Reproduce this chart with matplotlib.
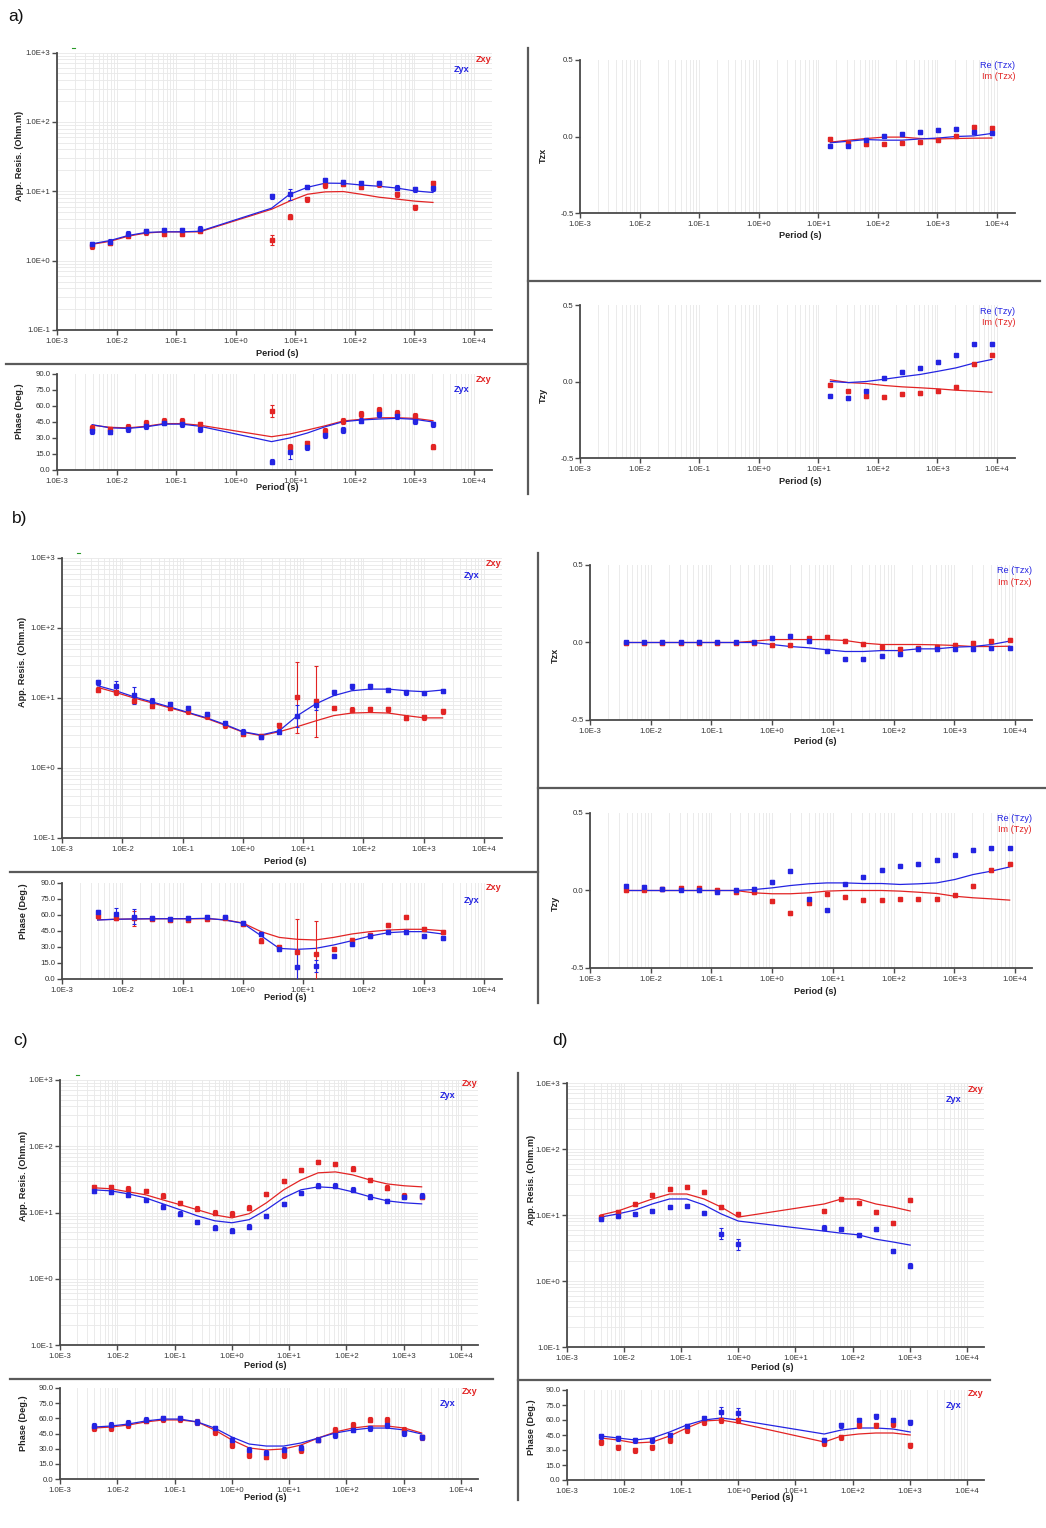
import numpy as np
import matplotlib
matplotlib.use('Agg')
import matplotlib.pyplot as plt
from matplotlib.ticker import FixedLocator, LogLocator, NullFormatter, FuncFormatter
from matplotlib.lines import Line2D

W, H = 1046, 1528
RED = '#e22424'
BLUE = '#2424e2'
GRID = '#e9e9e9'
SPINE = '#4a4a4a'
plt.rcParams['font.family'] = ['Liberation Sans', 'DejaVu Sans']

# ---------------- data ----------------
per_all = [0.0039, 0.0078, 0.0156, 0.03125, 0.0625, 0.125, 0.25, 0.5, 1.0, 2.0,
           4.0, 8.0, 16.0, 32.0, 64.0, 128.0, 256.0, 512.0, 1024.0, 2048.0, 4096.0, 8192.0]

# panel a
a_per = per_all[0:7] + per_all[10:20]
a_rho_xy = [1.6, 1.8, 2.3, 2.55, 2.46, 2.46, 2.7, 2.0, 4.3, 7.7, 12.2, 12.9, 11.7, 12.6, 9.0, 5.9, 13.1]
a_rho_yx = [1.71, 1.88, 2.46, 2.63, 2.72, 2.72, 2.9, 8.5, 9.0, 11.5, 14.4, 13.6, 13.1, 13.0, 11.3, 10.7, 11.0]
a_mod_xy = [1.72, 1.9, 2.25, 2.5, 2.6, 2.6, 2.6, 5.5, 7.2, 9.05, 9.8, 9.9, 9.05, 8.2, 7.7, 7.2, 6.9]
a_mod_yx = [1.75, 1.95, 2.3, 2.55, 2.6, 2.6, 2.65, 5.7, 9.0, 11.4, 13.1, 13.0, 12.3, 11.8, 11.1, 10.1, 9.6]
a_rerr_xy = [0.035] * 7 + [0.07] + [0.035] * 9
a_rerr_yx = [0.035] * 8 + [0.085] + [0.035] * 8
a_phi_xy = [39.7, 38, 40.6, 44, 46.2, 46, 42.8, 55.3, 21.9, 25, 36.6, 46, 52.5, 56.2, 53.7, 50.9, 21.9]
a_phi_yx = [36.6, 36, 38.4, 41.2, 44.3, 42.8, 38.1, 7.8, 17.2, 21.3, 32.8, 37.5, 46.2, 52.2, 50.6, 46, 42.8]
a_pmod_xy = [42, 40, 39.5, 41, 43.5, 43.5, 42, 31.2, 33.7, 37.5, 41.5, 46, 47.5, 49, 49, 48.4, 46.2]
a_pmod_yx = [42.5, 39.5, 39, 40.5, 43, 43, 41, 26.6, 30, 34.7, 40.6, 45.3, 46.9, 47.8, 48.4, 47.5, 45]
a_perr_xy = [2.5] * 7 + [5.5] + [2.5] * 9
a_perr_yx = [2.5] * 8 + [6.5] + [2.5] * 8

a_tper = per_all[12:22]
a_tzx_re = [-0.059, -0.059, -0.024, 0.002, 0.017, 0.028, 0.041, 0.05, 0.028, 0.02]
a_tzx_im = [-0.015, -0.04, -0.048, -0.046, -0.04, -0.035, -0.024, 0.002, 0.063, 0.057]
a_tzx_mre = [-0.041, -0.031, -0.02, -0.024, -0.024, -0.016, -0.01, 0.0, 0.004, 0.02]
a_tzx_mim = [-0.037, -0.024, -0.013, -0.004, -0.004, -0.013, -0.016, -0.013, -0.011, -0.01]
a_tzy_re = [-0.092, -0.107, -0.065, 0.024, 0.063, 0.089, 0.126, 0.17, 0.242, 0.246]
a_tzy_im = [-0.02, -0.065, -0.096, -0.102, -0.08, -0.074, -0.065, -0.033, 0.115, 0.176]
a_tzy_mre = [0.0, -0.007, 0.0, 0.015, 0.031, 0.046, 0.067, 0.089, 0.12, 0.144]
a_tzy_mim = [0.011, -0.007, -0.013, -0.026, -0.035, -0.041, -0.048, -0.057, -0.063, -0.07]

# panel b
b_per = per_all[0:20]
b_rho_xy = [13.2, 12.0, 9.2, 7.8, 7.2, 6.45, 5.5, 4.1, 3.1, 2.85, 4.1, 10.2, 9.0, 7.2, 6.8, 6.9, 6.9, 5.2, 5.3, 6.45]
b_rho_yx = [16.7, 14.7, 11.0, 9.2, 8.2, 7.2, 5.9, 4.4, 3.3, 2.8, 3.3, 5.5, 8.0, 12.0, 14.7, 14.7, 13.0, 12.0, 11.8, 12.6]
b_mod_xy = [14.2, 12.0, 10.0, 8.5, 7.2, 6.1, 5.1, 4.1, 3.25, 2.9, 3.3, 3.9, 4.7, 5.6, 6.1, 6.2, 6.1, 5.6, 5.2, 5.2]
b_mod_yx = [15.0, 12.7, 10.4, 8.8, 7.4, 6.2, 5.2, 4.2, 3.3, 2.96, 3.4, 5.6, 8.2, 10.8, 12.7, 13.4, 13.4, 12.7, 12.3, 13.0]
b_rerr_xy = [0.035] * 11 + [0.51, 0.51] + [0.035] * 7
b_rerr_yx = [0.035, 0.076, 0.12] + [0.035] * 8 + [0.16, 0.08] + [0.035] * 7
b_phi_xy = [59, 57, 56.9, 56, 55.3, 55.3, 56.6, 56.9, 51.6, 36.0, 29.7, 25.6, 23.7, 27.8, 36.6, 41.3, 50.6, 58.4, 46.6, 44.4]
b_phi_yx = [63.1, 61, 58.4, 56.9, 56, 56.9, 57.8, 57.8, 52.8, 42, 27.8, 11.6, 11.9, 21.9, 32.8, 40.3, 44.4, 43.8, 40.3, 38.7]
b_pmod_xy = [55.5, 56, 56.3, 56.5, 56.5, 56.5, 56.5, 55.5, 52.5, 44.4, 39, 37.2, 36.6, 39, 42.2, 44.4, 45.9, 46.6, 46.6, 45.3]
b_pmod_yx = [55.3, 56, 56.3, 56.5, 56.5, 56.5, 56.9, 55.3, 52.2, 40.6, 28.7, 27.8, 28.7, 31.9, 35.9, 40.3, 43.4, 44.4, 44.4, 42.2]
b_perr_xy = [2.0, 2.0, 7.0] + [2.0] * 8 + [31.0, 31.0] + [2.0] * 7
b_perr_yx = [2.0, 5.5, 7.0] + [2.0] * 8 + [13.0, 5.5] + [2.0] * 7

b_tper = per_all[0:22]
b_tzx_re = [0.0, 0.0, 0.0, 0.0, 0.005, 0.0, 0.0, 0.0, 0.03, 0.041, 0.009, -0.056, -0.105, -0.105,
            -0.088, -0.073, -0.045, -0.041, -0.041, -0.041, -0.037, -0.034]
b_tzx_im = [-0.005, -0.005, -0.005, -0.005, -0.005, -0.005, -0.005, -0.005, -0.019, -0.019, 0.026,
            0.034, 0.009, -0.009, -0.03, -0.041, -0.034, -0.03, -0.013, -0.004, 0.009, 0.019]
b_tzx_mre = [0.0, 0.0, 0.0, 0.0, 0.0, 0.0, 0.0, 0.0, -0.013, -0.026, -0.034, -0.047, -0.058, -0.058,
             -0.052, -0.052, -0.041, -0.041, -0.03, -0.026, -0.013, 0.009]
b_tzx_mim = [0.0, 0.0, 0.0, 0.0, 0.0, 0.0, 0.0, 0.009, 0.019, 0.019, 0.019, 0.019, 0.013, -0.004,
             -0.013, -0.013, -0.013, -0.015, -0.019, -0.026, -0.026, -0.024]
b_tzy_re = [0.028, 0.024, 0.011, 0.006, 0.0, -0.011, 0.002, 0.011, 0.056, 0.129, -0.054, -0.129, 0.039,
            0.088, 0.131, 0.161, 0.172, 0.196, 0.232, 0.26, 0.271, 0.271]
b_tzy_im = [0.002, 0.006, 0.011, 0.015, 0.017, 0.006, -0.011, -0.011, -0.069, -0.144, -0.08, -0.021,
            -0.041, -0.062, -0.064, -0.058, -0.058, -0.054, -0.032, 0.028, 0.131, 0.174]
b_tzy_mre = [0.0, 0.0, 0.0, 0.0, 0.0, 0.0, 0.0, 0.006, 0.017, 0.032, 0.043, 0.049, 0.049, 0.045, 0.045,
             0.039, 0.043, 0.049, 0.071, 0.103, 0.125, 0.152]
b_tzy_mim = [0.0, 0.0, 0.0, 0.0, 0.0, 0.0, 0.0, -0.015, -0.021, -0.021, -0.015, -0.004, 0.0, 0.0, 0.0,
             -0.004, -0.011, -0.019, -0.037, -0.047, -0.054, -0.062]

# panel c
c_per = per_all[0:20]
c_rho_xy = [24.4, 24.4, 22.8, 21.2, 17.9, 14.0, 11.4, 9.9, 9.6, 11.8, 19.1, 30, 44, 58, 54, 46, 31, 23.6, 17.9, 17.3]
c_rho_yx = [21.2, 20.5, 18.5, 15.5, 12.2, 9.6, 7.2, 5.9, 5.3, 6.1, 8.9, 13.5, 19.8, 25.3, 25.3, 22, 17.3, 15, 17.3, 17.9]
c_mod_xy = [23.6, 22.8, 20.5, 18.5, 15.5, 13.1, 11, 9.2, 8.3, 9.6, 14, 22, 31, 39.7, 41, 37, 31, 27, 25.3, 24.4]
c_mod_yx = [22, 21.2, 19.1, 16.6, 13.5, 11, 8.9, 7.5, 7.0, 7.8, 11, 16.6, 22, 24.4, 23.6, 20.5, 17.3, 15, 14, 13.5]
c_phi_xy = [50.4, 50.4, 53.4, 57.4, 59.3, 59.3, 56.4, 46.5, 33.6, 23.7, 21.8, 23.7, 28.7, 38.6, 48.5, 53.4, 58.4, 58.4, 48.5, 41.5]
c_phi_yx = [52.4, 53.4, 55.4, 58.4, 60.3, 60.3, 56.4, 50.4, 38.6, 28.7, 25.7, 28.7, 30.7, 38.6, 43.5, 48.5, 50.4, 53.4, 45.5, 41.5]
c_pmod_xy = [50.4, 51.4, 53.4, 56.4, 58.4, 58.4, 56.4, 48.5, 38.6, 30.7, 28.7, 29.7, 33.6, 40.5, 46.5, 50.4, 52.4, 52.4, 50.4, 45.5]
c_pmod_yx = [51.4, 52.4, 54.4, 57.4, 59.3, 59.3, 56.4, 50.4, 41.5, 34.6, 32.6, 32.6, 35.6, 40.5, 45.5, 48.5, 50.4, 50.4, 48.5, 44.5]

# panel d
d_per = per_all[0:9] + per_all[13:19]
d_rho_xy = [9.3, 11.1, 14.7, 20.1, 24.8, 26.6, 22.3, 13.2, 10.4, 11.5, 17.5, 15.2, 11.1, 7.6, 16.9]
d_rho_yx = [8.7, 9.7, 10.4, 11.5, 13.2, 13.7, 10.7, 5.2, 3.6, 6.4, 6.1, 5.0, 6.1, 2.85, 1.7]
d_mod_xy = [10, 11.5, 14.2, 17.5, 20.8, 20.8, 17.5, 13.2, 9.3, 14.7, 17.5, 17.5, 14.7, 13.2, 11.5]
d_mod_yx = [9.3, 10.4, 11.9, 14.7, 17.5, 17.5, 14.2, 10.4, 8.1, 5.7, 5.3, 5.0, 4.3, 3.9, 3.5]
d_rerr_yx = [0.035] * 7 + [0.08, 0.08] + [0.035] * 6
d_phi_xy = [38, 33, 30, 33, 40, 50, 58, 60, 60, 37, 43, 55, 55, 56, 35]
d_phi_yx = [44, 42, 40, 40, 45, 54, 62, 68, 67, 40, 55, 60, 64, 60, 58]
d_pmod_xy = [42, 40, 37, 38, 44, 52, 59, 60, 57, 38, 44, 46, 47, 47, 45]
d_pmod_yx = [44, 42, 40, 42, 48, 55, 60, 62, 60, 46, 50, 52, 52, 51, 48]
d_perr_yx = [2.5] * 7 + [5.5, 5.5] + [2.5] * 6

DECADES = [1e-3, 1e-2, 1e-1, 1e0, 1e1, 1e2, 1e3, 1e4]

# ---------------- helpers ----------------
fig = plt.figure(figsize=(W / 100, H / 100), dpi=100)


def px_axes(x0, y0, x1, y1):
    return fig.add_axes([x0 / W, 1 - y1 / H, (x1 - x0) / W, (y1 - y0) / H])


def ftext(x, y, s, **kw):
    fig.text(x / W, 1 - y / H, s, **kw)


def fline(x0, y0, x1, y1, color='#5a5a5a', lw=1.6):
    fig.add_artist(Line2D([x0 / W, x1 / W], [1 - y0 / H, 1 - y1 / H], transform=fig.transFigure,
                          color=color, lw=lw))


def fmtE(v, pos=None):
    return '1.0E%+d' % int(round(np.log10(v)))


def base_style(ax, xright):
    ax.set_xscale('log')
    ax.set_xlim(1e-3, xright)
    ax.xaxis.set_major_locator(FixedLocator(DECADES))
    ax.xaxis.set_major_formatter(FuncFormatter(fmtE))
    ax.xaxis.set_minor_locator(LogLocator(base=10, subs=np.arange(2, 10), numticks=60))
    ax.xaxis.set_minor_formatter(NullFormatter())
    for s in ['top', 'right']:
        ax.spines[s].set_visible(False)
    for s in ['left', 'bottom']:
        ax.spines[s].set_color(SPINE)
        ax.spines[s].set_linewidth(1.3)
    ax.tick_params(which='major', length=3.5, width=1.0, color=SPINE, labelsize=5.6,
                   labelcolor='#333333', pad=2.2)
    ax.tick_params(which='minor', length=0)
    ax.grid(which='both', axis='x', color=GRID, lw=0.65)
    ax.set_axisbelow(True)
    ax.patch.set_alpha(0)


def data_log(ax, per, rho, err, color):
    rho = np.asarray(rho)
    e = 10 ** np.asarray(err)
    ax.errorbar(per, rho, yerr=[rho - rho / e, rho * e - rho], fmt='s', ms=3.3, color=color,
                ecolor=color, elinewidth=0.8, capsize=1.6, capthick=0.8, zorder=4)


def data_lin(ax, per, val, err, color):
    ax.errorbar(per, val, yerr=err, fmt='s', ms=3.3, color=color, ecolor=color,
                elinewidth=0.8, capsize=1.6, capthick=0.8, zorder=4)


def res_panel(box, dec, per, rxy, ryx, mxy, myx, exy, eyx):
    x0, y0, x1, y1 = box
    ax = px_axes(x0, y0, x1, y1)
    base_style(ax, 10 ** (-3 + (x1 - x0) / dec))
    ax.set_yscale('log')
    ax.set_ylim(0.1, 1000)
    ax.yaxis.set_major_locator(FixedLocator([0.1, 1, 10, 100, 1000]))
    ax.yaxis.set_major_formatter(FuncFormatter(fmtE))
    ax.yaxis.set_minor_locator(LogLocator(base=10, subs=np.arange(2, 10), numticks=60))
    ax.yaxis.set_minor_formatter(NullFormatter())
    ax.tick_params(axis='y', which='major', pad=1.2)
    ax.grid(which='both', axis='y', color=GRID, lw=0.65)
    ax.plot(per, mxy, color=RED, lw=0.9, zorder=3)
    ax.plot(per, myx, color=BLUE, lw=0.9, zorder=3)
    data_log(ax, per, rxy, exy, RED)
    data_log(ax, per, ryx, eyx, BLUE)
    return ax


def phase_panel(box, dec, per, pxy, pyx, mxy, myx, exy, eyx):
    x0, y0, x1, y1 = box
    ax = px_axes(x0, y0, x1, y1)
    base_style(ax, 10 ** (-3 + (x1 - x0) / dec))
    ax.set_ylim(0, 90)
    ax.yaxis.set_major_locator(FixedLocator([0, 15, 30, 45, 60, 75, 90]))
    ax.yaxis.set_major_formatter(FuncFormatter(lambda v, p: '%.1f' % v))
    ax.tick_params(axis='y', which='major', pad=1.2)
    ax.plot(per, mxy, color=RED, lw=0.9, zorder=3)
    ax.plot(per, myx, color=BLUE, lw=0.9, zorder=3)
    data_lin(ax, per, pxy, exy, RED)
    data_lin(ax, per, pyx, eyx, BLUE)
    return ax


def tip_panel(box, dec, per, re, im, mre, mim, err):
    x0, y0, x1, y1 = box
    ax = px_axes(x0, y0, x1, y1)
    base_style(ax, 10 ** (-3 + (x1 - x0) / dec))
    ax.set_ylim(-0.5, 0.5)
    ax.yaxis.set_major_locator(FixedLocator([-0.5, 0.0, 0.5]))
    ax.yaxis.set_major_formatter(FuncFormatter(lambda v, p: '%.1f' % v))
    ax.tick_params(axis='y', which='major', pad=1.2)
    ax.plot(per, mim, color=RED, lw=0.9, zorder=3)
    ax.plot(per, mre, color=BLUE, lw=0.9, zorder=3)
    data_lin(ax, per, im, [err] * len(per), RED)
    data_lin(ax, per, re, [err] * len(per), BLUE)
    return ax


LBL = dict(fontsize=6.6, fontweight='bold', color='#222222', ha='center', va='center')
LEG = dict(fontsize=6.6, fontweight='bold', ha='right', va='center')
TLEG = dict(fontsize=6.6, ha='right', va='center')

# ---------------- panel a ----------------
ftext(16, 16, 'a)', fontsize=12.5, ha='center', va='center', color='#111111')
res_panel((57, 52.5, 492, 330), 59.57, a_per, a_rho_xy, a_rho_yx, a_mod_xy, a_mod_yx,
          a_rerr_xy, a_rerr_yx)
phase_panel((57, 374, 492, 470), 59.57, a_per, a_phi_xy, a_phi_yx, a_pmod_xy, a_pmod_yx,
            a_perr_xy, a_perr_yx)
tip_panel((580, 60, 1015, 213), 59.57, a_tper, a_tzx_re, a_tzx_im, a_tzx_mre, a_tzx_mim, 0.012)
tip_panel((580, 305, 1015, 458), 59.57, a_tper, a_tzy_re, a_tzy_im, a_tzy_mre, a_tzy_mim, 0.012)
ftext(19, 156, 'App. Resis. (Ohm.m)', rotation=90, **LBL)
ftext(20, 411, 'Phase (Deg.)', rotation=90, **LBL)
ftext(277, 353, 'Period (s)', **LBL)
ftext(277, 488, 'Period (s)', **LBL)
ftext(543, 155, 'Tzx', rotation=90, **LBL)
ftext(543, 395, 'Tzy', rotation=90, **LBL)
ftext(800, 236, 'Period (s)', **LBL)
ftext(800, 481, 'Period (s)', **LBL)
ftext(492, 59, 'Zxy', color=RED, **LEG)
ftext(469, 70, 'Zyx', color=BLUE, **LEG)
ftext(492, 379, 'Zxy', color=RED, **LEG)
ftext(469, 390, 'Zyx', color=BLUE, **LEG)
ftext(1015, 65, 'Re (Tzx)', color=BLUE, **TLEG)
ftext(1015, 76.5, 'Im (Tzx)', color=RED, **TLEG)
ftext(1015, 311, 'Re (Tzy)', color=BLUE, **TLEG)
ftext(1015, 322.5, 'Im (Tzy)', color=RED, **TLEG)
fline(6, 363.5, 528, 363.5)
fline(528, 48, 528, 494)
fline(528, 281, 1040, 281)
fline(72, 48, 75, 48, color='#2a9a2a', lw=0.8)

# ---------------- panel b ----------------
ftext(20, 518, 'b)', fontsize=12.5, ha='center', va='center', color='#111111')
res_panel((62, 558, 502, 838), 60.3, b_per, b_rho_xy, b_rho_yx, b_mod_xy, b_mod_yx,
          b_rerr_xy, b_rerr_yx)
phase_panel((62, 883, 502, 979), 60.3, b_per, b_phi_xy, b_phi_yx, b_pmod_xy, b_pmod_yx,
            b_perr_xy, b_perr_yx)
tip_panel((590, 565, 1032, 720), 60.7, b_tper, b_tzx_re, b_tzx_im, b_tzx_mre, b_tzx_mim, 0.012)
tip_panel((590, 813, 1032, 968), 60.7, b_tper, b_tzy_re, b_tzy_im, b_tzy_mre, b_tzy_mim, 0.012)
ftext(23, 662, 'App. Resis. (Ohm.m)', rotation=90, **LBL)
ftext(23, 911, 'Phase (Deg.)', rotation=90, **LBL)
ftext(285, 861, 'Period (s)', **LBL)
ftext(285, 998, 'Period (s)', **LBL)
ftext(555, 655, 'Tzx', rotation=90, **LBL)
ftext(555, 903, 'Tzy', rotation=90, **LBL)
ftext(815, 742, 'Period (s)', **LBL)
ftext(815, 991, 'Period (s)', **LBL)
ftext(502, 564, 'Zxy', color=RED, **LEG)
ftext(479, 576, 'Zyx', color=BLUE, **LEG)
ftext(502, 888, 'Zxy', color=RED, **LEG)
ftext(479, 900, 'Zyx', color=BLUE, **LEG)
ftext(1032, 571, 'Re (Tzx)', color=BLUE, **TLEG)
ftext(1032, 582, 'Im (Tzx)', color=RED, **TLEG)
ftext(1032, 819, 'Re (Tzy)', color=BLUE, **TLEG)
ftext(1032, 830, 'Im (Tzy)', color=RED, **TLEG)
fline(10, 872, 538, 872)
fline(538, 553, 538, 1003)
fline(538, 788, 1046, 788)
fline(77, 553, 80, 553, color='#2a9a2a', lw=0.8)

# ---------------- panel c ----------------
ftext(20, 1040, 'c)', fontsize=12.5, ha='center', va='center', color='#111111')
c_err = [0.035] * len(c_per)
c_perr = [2.5] * len(c_per)
res_panel((60, 1080, 478, 1345), 57.3, c_per, c_rho_xy, c_rho_yx, c_mod_xy, c_mod_yx,
          c_err, c_err)
phase_panel((60, 1388, 478, 1479), 57.3, c_per, c_phi_xy, c_phi_yx, c_pmod_xy, c_pmod_yx,
            c_perr, c_perr)
ftext(24, 1176, 'App. Resis. (Ohm.m)', rotation=90, **LBL)
ftext(23, 1423, 'Phase (Deg.)', rotation=90, **LBL)
ftext(265, 1366, 'Period (s)', **LBL)
ftext(265, 1497, 'Period (s)', **LBL)
ftext(478, 1084, 'Zxy', color=RED, **LEG)
ftext(456, 1096, 'Zyx', color=BLUE, **LEG)
ftext(478, 1392, 'Zxy', color=RED, **LEG)
ftext(456, 1404, 'Zyx', color=BLUE, **LEG)
fline(10, 1379, 493, 1379)
fline(76, 1075, 79, 1075, color='#2a9a2a', lw=0.8)

# ---------------- panel d ----------------
ftext(560, 1040, 'd)', fontsize=12.5, ha='center', va='center', color='#111111')
d_err = [0.035] * len(d_per)
d_perr = [2.5] * len(d_per)
res_panel((567, 1083, 984, 1347), 57.1, d_per, d_rho_xy, d_rho_yx, d_mod_xy, d_mod_yx,
          d_err, d_rerr_yx)
phase_panel((567, 1390, 984, 1480), 57.1, d_per, d_phi_xy, d_phi_yx, d_pmod_xy, d_pmod_yx,
            d_perr, d_perr_yx)
ftext(532, 1180, 'App. Resis. (Ohm.m)', rotation=90, **LBL)
ftext(532, 1427, 'Phase (Deg.)', rotation=90, **LBL)
ftext(772, 1368, 'Period (s)', **LBL)
ftext(772, 1498, 'Period (s)', **LBL)
ftext(984, 1089, 'Zxy', color=RED, **LEG)
ftext(962, 1100, 'Zyx', color=BLUE, **LEG)
ftext(984, 1394, 'Zxy', color=RED, **LEG)
ftext(962, 1406, 'Zyx', color=BLUE, **LEG)
fline(518, 1380, 990, 1380)
fline(518, 1073, 518, 1500)

fig.savefig('out.png', dpi=100, facecolor='white')
